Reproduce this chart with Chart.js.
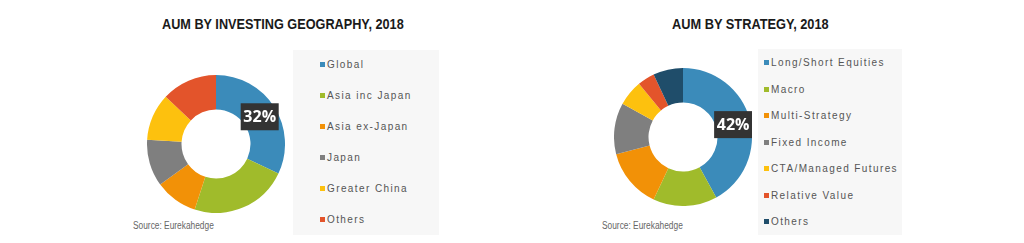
<!DOCTYPE html>
<html lang="en"><head>
<meta charset="utf-8">
<title>AUM 2018</title>
<style type="text/css">
body { margin:0; background:#ffffff; width:1024px; height:243px; overflow:hidden; position:relative; }
.title { position:absolute; top:15px; font-family:"Liberation Sans",Arial,sans-serif;
         font-weight:bold; font-size:15px; color:#1a1a1a; white-space:nowrap; transform-origin:0 0; }
.source { position:absolute; top:220px; font-family:"Liberation Sans",Arial,sans-serif;
          font-size:10px; color:#666666; white-space:nowrap; transform-origin:0 0; }
.panel { position:absolute; background:#f7f7f7; }
.item { position:absolute; font-family:"Liberation Sans",Arial,sans-serif; font-size:10px; letter-spacing:1.4px;
        color:#555555; white-space:nowrap; line-height:12px; }
.item span { display:inline-block; width:5px; height:5px; margin-right:2px; vertical-align:1px; }
.box { position:absolute; }
</style>
<script src="https://cdn.jsdelivr.net/npm/chart.js@4"></script>
<script>
// AUM by investing geography, 2018 (share in %)
geoLabels=['Global','Asia inc Japan','Asia ex-Japan','Japan','Greater China','Others'];
geoValues=[32,23,10,11,11,13];
geoColors=['#3b8bba','#a0bb2b','#f29107','#7f7f7f','#fdc10e','#e3542b'];

// AUM by strategy, 2018 (share in %)
stratLabels=['Long/Short Equities','Macro','Multi-Strategy','Fixed Income','CTA/Managed Futures','Relative Value','Others'];
stratValues=[42,15,14,12,6,4,7];
stratColors=['#3b8bba','#a0bb2b','#f29107','#7f7f7f','#fdc10e','#e3542b','#1f4d6a'];

// dark box with the share of the first slice
labelPlugin={id:'firstLabel',afterDatasetsDraw:function(chart){
  var arc=chart.getDatasetMeta(0).data[0], p=arc.tooltipPosition();
  var vals=chart.data.datasets[0].data, tot=0;
  for (var i=0;i<vals.length;i++) { tot+=vals[i]; }
  var txt=Math.round(vals[0]/tot*100)+'%', ctx=chart.ctx;
  ctx.save();
  ctx.fillStyle='#333333'; ctx.fillRect(p.x-19,p.y-13,38,27);
  ctx.fillStyle='#ffffff'; ctx.font='bold 16px "Open Sans",sans-serif';
  ctx.textAlign='center'; ctx.textBaseline='middle';
  ctx.fillText(txt,p.x,p.y+1);
  ctx.restore(); }};

function donut(id,labels,values,colors) {
  new Chart(document.getElementById(id),{type:'doughnut',
    data:{labels:labels,datasets:[{data:values,backgroundColor:colors,borderWidth:0}]},
    options:{responsive:false,animation:false,cutout:'50%',layout:{padding:0},
      plugins:{legend:{display:false},tooltip:{enabled:false}}},
    plugins:[labelPlugin]}); }

function legend(labels,colors,x,y,step) {
  for (var i=0;i<labels.length;i++) {
    var d=document.createElement('div'); d.className='item';
    d.style.left=x+'px'; d.style.top=(y+i*step)+'px';
    d.innerHTML='<span style="background:'+colors[i]+'"></span>'+labels[i];
    document.body.appendChild(d); } }

// squeeze text to the narrow width of the original
function narrow(el,w) { el.style.transform='scaleX('+(w/el.offsetWidth)+')'; }

function init() {
  donut('geo',geoLabels,geoValues,geoColors);
  donut('strat',stratLabels,stratValues,stratColors);
  legend(geoLabels,geoColors,320,59,31);
  legend(stratLabels,stratColors,764,57,26.5);
  narrow(document.getElementById('t1'),242);
  narrow(document.getElementById('t2'),157);
  narrow(document.getElementById('s1'),81);
  narrow(document.getElementById('s2'),81); }
</script></head>
<body onload="init();">
<div id="t1" class="title" style="left:162px;">AUM BY INVESTING GEOGRAPHY, 2018</div>
<div id="t2" class="title" style="left:672px;">AUM BY STRATEGY, 2018</div>

<canvas id="geo" class="box" width="138" height="138" style="left:147px;top:75px;"></canvas>
<canvas id="strat" class="box" width="138" height="138" style="left:614px;top:68px;"></canvas>

<div class="panel" style="left:293px;top:50px;width:146px;height:185px;"></div>
<div class="panel" style="left:758px;top:49px;width:144px;height:186px;"></div>

<div id="s1" class="source" style="left:133px;">Source: Eurekahedge</div>
<div id="s2" class="source" style="left:602px;">Source: Eurekahedge</div>
</body></html>
